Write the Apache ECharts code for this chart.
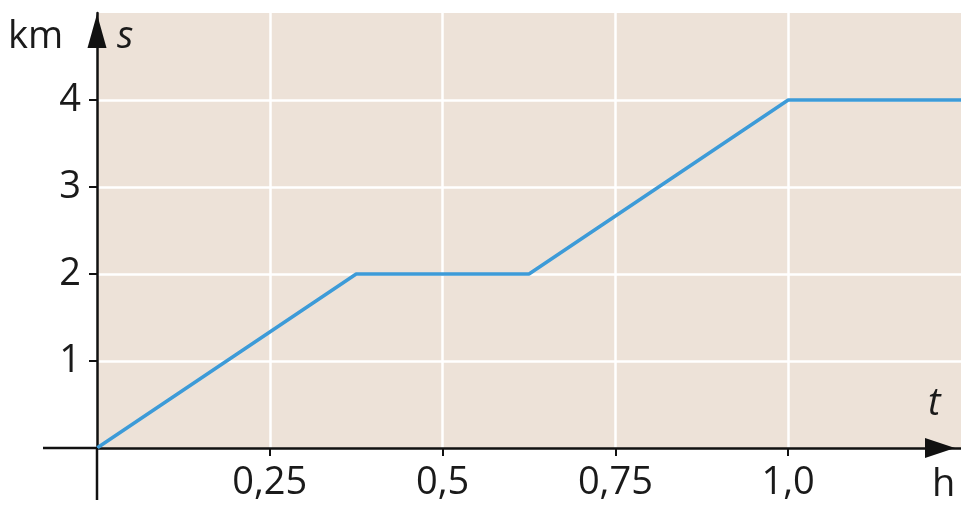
<!DOCTYPE html>
<html><head><meta charset="utf-8">
<script src="https://cdn.jsdelivr.net/npm/echarts@6/dist/echarts.min.js"></script>
<style>html,body{margin:0;padding:0;background:#fff}#c{width:961px;height:506px}</style>
</head><body><div id="c"></div>
<script>
const tValues = [0, 0.375, 0.625, 1.0, 1.25];
const sValues = [0, 2, 2, 4, 4];
const xTickValues = [0.25, 0.5, 0.75, 1.0];
const xTickLabels = ['0,25','0,5','0,75','1,0'];
const yTickValues = [1, 2, 3, 4];
const yTickLabels = ['1','2','3','4'];
const xMin = 0, xMax = 1.25, xStep = 0.25;
const yMin = 0, yMax = 5, yStep = 1;

const FONT = '"Open Sans", "DejaVu Sans", sans-serif';
const chart = echarts.init(document.getElementById('c'), null, {renderer:'canvas'});
const option = {
  animation:false,
  grid:{left:97, right:0, top:13, bottom:58, show:true, backgroundColor:'#ede2d8', borderWidth:0},
  xAxis:{type:'value', min:xMin, max:xMax, interval:xStep,
    axisLine:{show:true, onZero:false, lineStyle:{color:'#111', width:2.5}, symbol:['none','triangle'], symbolSize:[20,30], symbolOffset:[0,-21]},
    axisTick:{show:true, length:8, customValues:xTickValues, lineStyle:{color:'#111', width:2}},
    splitLine:{show:true, lineStyle:{color:'#ffffff', width:2.5}},
    axisLabel:{fontFamily:FONT, fontSize:38, color:'#1a1a1a', margin:16, customValues:xTickValues,
      formatter:v=>{const i=xTickValues.indexOf(v);return i>=0?xTickLabels[i]:'';}}
  },
  yAxis:{type:'value', min:yMin, max:yMax, interval:yStep,
    axisLine:{show:true, onZero:false, lineStyle:{color:'#111', width:2.5}, symbol:['none','triangle'], symbolSize:[19,34], symbolOffset:[0,-18]},
    axisTick:{show:true, length:8, customValues:yTickValues, lineStyle:{color:'#111', width:2}},
    splitLine:{show:true, lineStyle:{color:'#ffffff', width:2.5}},
    axisLabel:{fontFamily:FONT, fontSize:38, color:'#1a1a1a', margin:16, customValues:yTickValues,
      formatter:v=>{const i=yTickValues.indexOf(v);return i>=0?yTickLabels[i]:'';}}
  },
  series:[{type:'line', data:tValues.map((t,i)=>[t,sValues[i]]), showSymbol:false,
    lineStyle:{color:'#3d9bd8', width:3.5}, z:5}]
};
chart.setOption(option);
const o = chart.convertToPixel({gridIndex:0},[0,0]);
chart.setOption({graphic:[
  {type:'line', shape:{x1:43,y1:o[1],x2:o[0],y2:o[1]}, style:{stroke:'#111',lineWidth:2.5}, z:10},
  {type:'line', shape:{x1:o[0],y1:o[1],x2:o[0],y2:500}, style:{stroke:'#111',lineWidth:2.5}, z:10},
  {type:'text', left:8, top:18, style:{text:'km', font:'38px '+FONT, fill:'#1a1a1a'}},
  {type:'text', left:117, top:18, style:{text:'s', font:'italic 38px '+FONT, fill:'#1a1a1a'}},
  {type:'text', left:928, top:385, style:{text:'t', font:'italic 38px '+FONT, fill:'#1a1a1a'}},
  {type:'text', left:932, top:466, style:{text:'h', font:'38px '+FONT, fill:'#1a1a1a'}}
]});
</script></body></html>
